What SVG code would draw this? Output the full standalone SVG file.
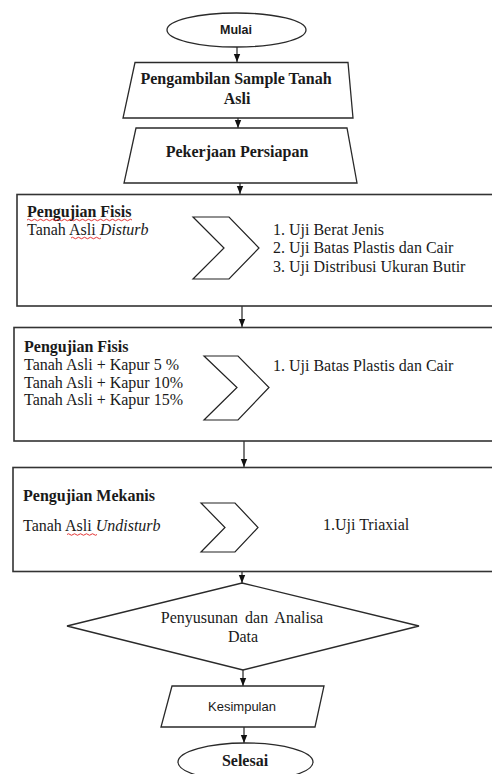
<svg xmlns="http://www.w3.org/2000/svg" width="492" height="774" viewBox="0 0 492 774">
<defs>
<marker id="ah" markerUnits="userSpaceOnUse" markerWidth="8" markerHeight="8" viewBox="0 0 8 8" refX="8" refY="4" orient="auto">
<path d="M0,0.8 L8,4 L0,7.2 Z" fill="#111"/>
</marker>
<style>
.sh{fill:#fff;stroke:#2a2a2a;stroke-width:1.3}
.bx{fill:#fff;stroke:#333;stroke-width:1.6}
.cv{fill:#fff;stroke:#222;stroke-width:1.2}
.cn{fill:none;stroke:#222;stroke-width:1.2;marker-end:url(#ah)}
.t{font-family:"Liberation Serif","Times New Roman",serif;font-size:16px;fill:#1a1a1a}
.b{font-weight:bold}
.i{font-style:italic}
.s{font-family:"Liberation Sans",Arial,sans-serif;fill:#1a1a1a}
.sq{fill:none;stroke:#e02020;stroke-width:0.9}
</style>
</defs>

<g id="connectors">
<line class="cn" x1="237" y1="47" x2="237" y2="62"/>
<line class="cn" x1="238" y1="118" x2="238" y2="128"/>
<line class="cn" x1="240" y1="183" x2="240" y2="194"/>
<line class="cn" x1="242" y1="306" x2="242" y2="327"/>
<line class="cn" x1="244" y1="441" x2="244" y2="467"/>
<line class="cn" x1="242" y1="571" x2="242" y2="583"/>
<line class="cn" x1="243" y1="670" x2="243" y2="686"/>
<line class="cn" x1="244" y1="727" x2="244" y2="743"/>
</g>

<g id="mulai">
<ellipse class="sh" cx="236.5" cy="30" rx="69.5" ry="17"/>
<text class="s" x="236" y="34" font-size="12.5" font-weight="bold" text-anchor="middle">Mulai</text>
</g>

<g id="pengambilan">
<polygon class="sh" points="135,62.5 348,62.5 353,118 123,118"/>
<text class="t b" x="236" y="84" text-anchor="middle">Pengambilan Sample Tanah</text>
<text class="t b" x="237" y="104" text-anchor="middle">Asli</text>
</g>

<g id="persiapan">
<polygon class="sh" points="136,128 347,128 357,183 124,183"/>
<text class="t b" x="237" y="157" text-anchor="middle">Pekerjaan Persiapan</text>
</g>

<g id="uji-fisis-1">
<rect class="bx" x="17" y="194.5" width="490" height="111.5"/>
<text class="t b" x="27" y="217">Pengujian Fisis</text>
<text class="t" x="27" y="234.5">Tanah Asli <tspan class="i">Disturb</tspan></text>
<path class="sq" d="M27,220 q1.5,-1.5 3,0 t3,0 t3,0 t3,0 t3,0 t3,0 t3,0 t3,0 t3,0 t3,0 t3,0 t3,0 t3,0 t3,0 t3,0 t3,0 t3,0 t3,0 t3,0 t3,0 t3,0 t3,0 t3,0 t3,0 t3,0 t3,0 t3,0 t3,0 t3,0 t3,0 t3,0 t3,0 t3,0 t3,0 t3,0"/>
<path class="sq" d="M71,238 q1.5,-1.5 3,0 t3,0 t3,0 t3,0 t3,0 t3,0 t3,0 t3,0 t3,0 t3,0"/>
<polygon class="cv" points="193,217 229,217 259,248 229,279 193,279 224,248"/>
<text class="t" x="273" y="235">1. Uji Berat Jenis</text>
<text class="t" x="273" y="253">2. Uji Batas Plastis dan Cair</text>
<text class="t" x="273" y="271.5">3. Uji Distribusi Ukuran Butir</text>
</g>

<g id="uji-fisis-2">
<rect class="bx" x="14" y="327.5" width="493" height="113.5"/>
<text class="t b" x="24" y="352">Pengujian Fisis</text>
<text class="t" x="24" y="369.5">Tanah Asli + Kapur 5 %</text>
<text class="t" x="24" y="387.5">Tanah Asli + Kapur 10%</text>
<text class="t" x="24" y="405">Tanah Asli + Kapur 15%</text>
<polygon class="cv" points="204,356 238,356 269,387.5 238,420 204,420 237,387.5"/>
<text class="t" x="273" y="371">1. Uji Batas Plastis dan Cair</text>
</g>

<g id="uji-mekanis">
<rect class="bx" x="13" y="467.5" width="494" height="104"/>
<text class="t b" x="23" y="501">Pengujian Mekanis</text>
<text class="t" x="23" y="530.5">Tanah Asli <tspan class="i">Undisturb</tspan></text>
<path class="sq" d="M67,534.5 q1.5,-1.5 3,0 t3,0 t3,0 t3,0 t3,0 t3,0 t3,0 t3,0 t3,0 t3,0"/>
<polygon class="cv" points="201,503 235,503 258,527.5 235,552 201,552 225,527.5"/>
<text class="t" x="323" y="530">1.Uji Triaxial</text>
</g>

<g id="analisa">
<polygon class="sh" points="242,583 419,626 243,670 67,626"/>
<text class="t" x="242" y="623" font-size="14" word-spacing="3" text-anchor="middle">Penyusunan dan Analisa</text>
<text class="t" x="243" y="642" font-size="14" text-anchor="middle">Data</text>
</g>

<g id="kesimpulan">
<polygon class="sh" points="172,686 324,686 315,727 161,727"/>
<text class="s" x="242" y="711" font-size="13" text-anchor="middle">Kesimpulan</text>
</g>

<g id="selesai">
<ellipse class="sh" cx="245.5" cy="762" rx="67.5" ry="19"/>
<text class="t b" x="245" y="766" font-size="14.5" text-anchor="middle">Selesai</text>
</g>
</svg>
